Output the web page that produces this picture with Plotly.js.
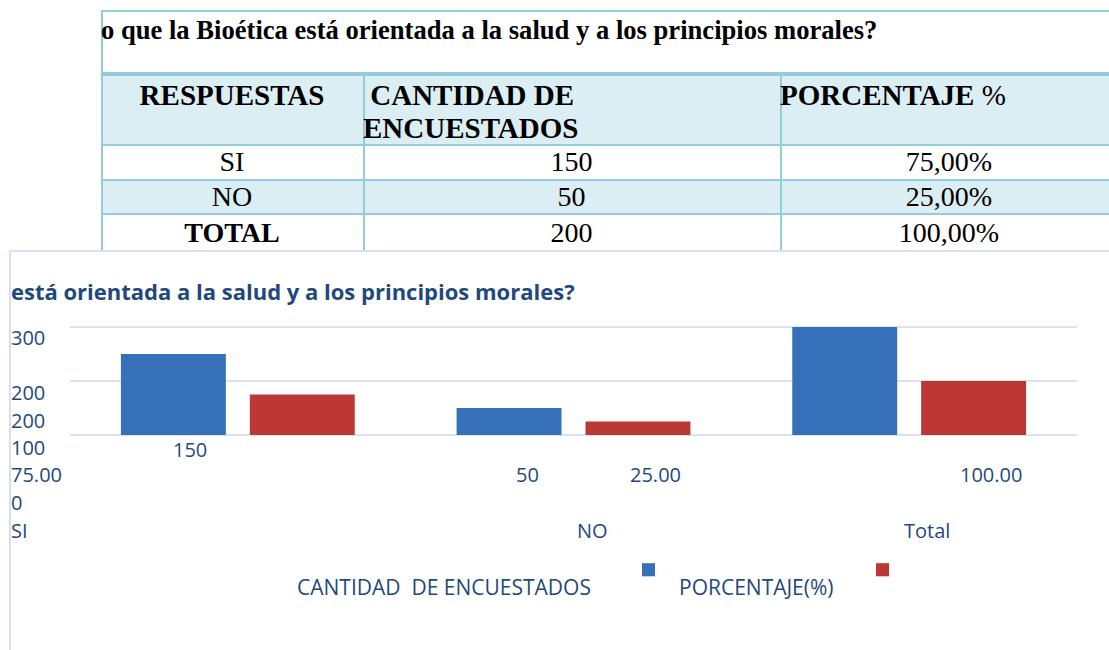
<!DOCTYPE html>
<html>
<head>
<meta charset="utf-8">
<script src="https://cdn.plot.ly/plotly-3.0.1.min.js"></script>
<style>
  html, body { margin:0; padding:0; background:#ffffff; width:1109px; height:650px; overflow:hidden; }
  #tbl { position:absolute; left:0; top:0; width:1109px; height:251px; overflow:hidden; z-index:1; font-family:"Liberation Serif","Times New Roman",serif; color:#000; }
  #tbl div { position:absolute; box-sizing:border-box; }
  .t { white-space:nowrap; line-height:1; }
  #frame { position:absolute; left:9px; top:250px; width:1110px; height:410px; border-top:2px solid #D5E1EF; border-left:2px solid #D5E1EF; z-index:2; }
  #chart { position:absolute; left:0; top:0; width:1109px; height:650px; z-index:3; }
</style>
</head>
<body>
<div id="tbl"></div>
<div id="frame"></div>
<div id="chart"></div>
<script>
// ---- table data ----
const tableTitle = "o que la Bioética está orientada a la salud y a los principios morales?";
const tableHeaders = ["RESPUESTAS", "CANTIDAD DE", "ENCUESTADOS", "PORCENTAJE"];
const tableRespuestas = ["SI", "NO", "TOTAL"];
const tableCantidad = [150, 50, 200];
const tablePorcentaje = ["75,00%", "25,00%", "100,00%"];

// ---- chart data ----
const categories = ["SI", "NO", "Total"];
const cantidadValues = [150, 50, 200];
const porcentajeValues = [75, 25, 100];
const seriesNames = ["CANTIDAD  DE ENCUESTADOS", "PORCENTAJE(%)"];
const chartTitle = "está orientada a la salud y a los principios morales?";
const yTickText = ["300", "200", "200", "100", "0"];

// ---- build table (positioned divs) ----
(function(){
  const T = document.getElementById('tbl');
  const add = (style, html) => { const d = document.createElement('div'); d.style.cssText = style; if (html !== undefined) d.innerHTML = html; T.appendChild(d); return d; };
  const colX = [101, 363, 780, 1118];
  const lineC = "#92CDDC", fillC = "#DAEEF3";
  // fills
  add(`left:${colX[0]}px;top:75px;width:${colX[3]-colX[0]}px;height:69px;background:${fillC}`);
  add(`left:${colX[0]}px;top:179px;width:${colX[3]-colX[0]}px;height:34px;background:${fillC}`);
  // horizontal lines
  [[10,2],[72,4],[144,2],[179,2],[213,2]].forEach(l => add(`left:${colX[0]}px;top:${l[0]}px;width:${colX[3]-colX[0]}px;height:${l[1]}px;background:${lineC}`));
  // vertical lines
  add(`left:${colX[0]}px;top:10px;width:2px;height:250px;background:${lineC}`);
  add(`left:${colX[1]}px;top:74px;width:2px;height:190px;background:${lineC}`);
  add(`left:${colX[2]}px;top:74px;width:2px;height:190px;background:${lineC}`);
  // text helper: centered vertically at cy
  const text = (txt, x, cy, w, align, size, bold) => add(`left:${x}px;top:${cy - size/2}px;width:${w}px;height:${size}px;text-align:${align};font-size:${size}px;font-weight:${bold?'bold':'normal'};`, `<span class="t" style="display:block;line-height:${size}px">${txt}</span>`);
  text(tableTitle, 101, 30, 1000, "left", 26.6, true);
  text(tableHeaders[0], colX[0], 95, colX[1]-colX[0], "center", 29, true);
  text("&nbsp;" + tableHeaders[1], colX[1], 95, 400, "left", 29, true);
  text(tableHeaders[2], colX[1], 128, 400, "left", 29, true);
  text(tableHeaders[3] + ' <span style="font-weight:normal">%</span>', colX[2], 95, 330, "left", 29, true);
  const rowCy = [162, 197, 233];
  for (let i = 0; i < tableRespuestas.length; i++) {
    const b = tableRespuestas[i] === "TOTAL";
    text(tableRespuestas[i], colX[0], rowCy[i], colX[1]-colX[0], "center", 28, b);
    text(String(tableCantidad[i]), colX[1], rowCy[i], colX[2]-colX[1], "center", 28, false);
    text(tablePorcentaje[i], colX[2], rowCy[i], colX[3]-colX[2], "center", 28, false);
  }
})();

// ---- chart ----
const PL = 70, PR = 1077, PT = 327, PB = 435;
const xp = px => (px - PL) / (PR - PL);
const yp = py => (PB - py) / (PB - PT);
const txtColor = "#1F497D";
const fontFam = "Open Sans, Noto Sans, sans-serif";
const blue = "#3670B9", red = "#BD3734";

const traces = [
  { type:"bar", x:categories, y:cantidadValues, name:seriesNames[0], marker:{color:blue}, hoverinfo:"none" },
  { type:"bar", x:categories, y:porcentajeValues, name:seriesNames[1], marker:{color:red}, hoverinfo:"none" }
];

const ann = [];
const lab = (text, px, py, anchor, size) => ann.push({
  text:text, xref:"paper", yref:"paper", x:xp(px), y:yp(py), xanchor:anchor || "center", yanchor:"middle",
  showarrow:false, borderpad:0, font:{family:fontFam, size:size || 20, color:txtColor}
});
// y tick column (as rendered in the reference)
const yTickPy = [338, 393, 421, 447, 502];
yTickText.forEach((t, i) => lab(t, 10, yTickPy[i], "left"));
// data labels
const cantLabelPos = [[190, 449], [527, 474], null];
const pctLabelPos = [[10, 474, "left"], [655, 474], [991, 474]];
cantidadValues.forEach((v, i) => { const p = cantLabelPos[i]; if (p) lab(String(v), p[0], p[1]); });
porcentajeValues.forEach((v, i) => { const p = pctLabelPos[i]; if (p) lab(v.toFixed(2), p[0], p[1], p[2]); });
// category labels
const catPos = [[10, 530, "left"], [592, 530], [927, 530]];
categories.forEach((c, i) => lab(c, catPos[i][0], catPos[i][1], catPos[i][2]));
// legend text
lab(seriesNames[0], 296, 586, "left", 21);
lab(seriesNames[1], 678, 586, "left", 21);

const shapes = [
  { type:"rect", xref:"paper", yref:"paper", x0:xp(642), x1:xp(655), y0:yp(575), y1:yp(562), fillcolor:blue, line:{width:0} },
  { type:"rect", xref:"paper", yref:"paper", x0:xp(876), x1:xp(889), y0:yp(575), y1:yp(562), fillcolor:red, line:{width:0} }
];

const layout = {
  width:1109, height:650,
  margin:{l:PL, r:1109-PR, t:PT-1, b:650-PB, pad:0},
  paper_bgcolor:"rgba(0,0,0,0)", plot_bgcolor:"rgba(0,0,0,0)",
  barmode:"group", bargap:0.232, bargroupgap:0.186,
  showlegend:false,
  title:{ text:"<b>" + chartTitle + "</b>", xref:"container", yref:"container", x:11/1109, xanchor:"left", y:1-292/650, yanchor:"middle",
          font:{family:fontFam, size:22, color:txtColor} },
  xaxis:{ type:"category", showticklabels:false, showgrid:false, zeroline:false, showline:false, ticks:"" },
  yaxis:{ range:[0,202], tickvals:[0,100,200], showticklabels:false, showgrid:true, gridcolor:"#D9E4F1", gridwidth:2,
          zeroline:true, zerolinecolor:"#D9E4F1", zerolinewidth:2, showline:false, ticks:"" },
  annotations:ann, shapes:shapes
};

Plotly.newPlot("chart", traces, layout, {displayModeBar:false, staticPlot:true});
</script>
</body>
</html>
